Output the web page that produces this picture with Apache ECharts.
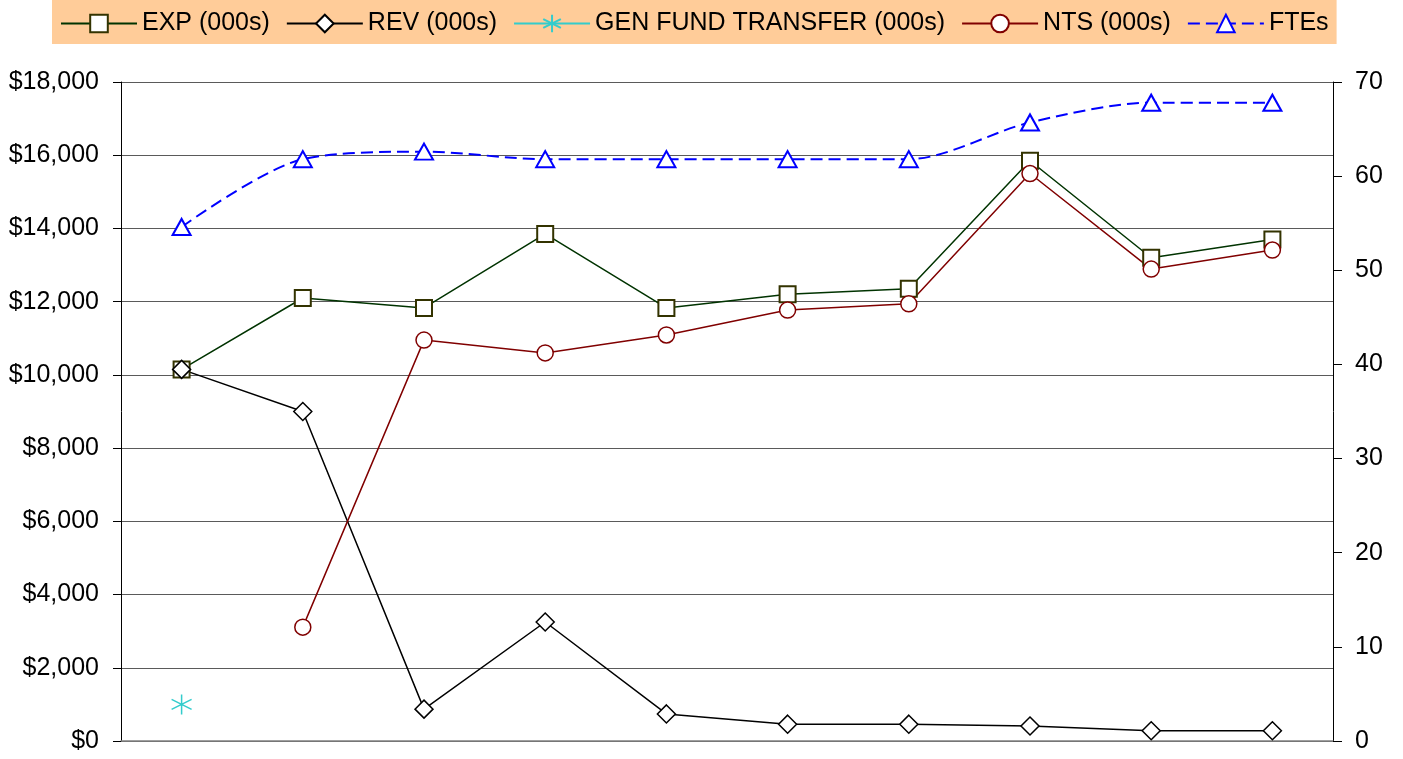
<!DOCTYPE html>
<html>
<head>
<meta charset="utf-8">
<script src="https://cdn.jsdelivr.net/npm/echarts@6/dist/echarts.min.js"></script>
<style>
  html, body { margin: 0; padding: 0; background: #fff; }
  #chart { width: 1403px; height: 759px; }
</style>
</head>
<body>
<div id="chart"></div>
<script>
const categories = ['1', '2', '3', '4', '5', '6', '7', '8', '9', '10']
const expValues = [10150, 12100, 11830, 13850, 11830, 12200, 12350, 15850, 13200, 13700]
const revValues = [10150, 9000, 870, 3250, 740, 460, 460, 410, 280, 280]
const genFundValues = [1000, null, null, null, null, null, null, null, null, null]
const ntsValues = [null, 3110, 10950, 10600, 11090, 11770, 11940, 15500, 12890, 13410]
const fteValues = [54.6, 61.8, 62.6, 61.8, 61.8, 61.8, 61.8, 65.7, 67.8, 67.8]

const font = 'Liberation Sans, Arial, sans-serif'
const asterisk = 'path://M5,0L5,10M0.7,2.5L9.3,7.5M0.7,7.5L9.3,2.5'

const chart = echarts.init(document.getElementById('chart'))

chart.setOption({
  animation: false,
  legend: {
    top: 0,
    left: 52,
    backgroundColor: '#FFCC99',
    padding: [11, 8, 8, 8],
    itemWidth: 76,
    itemHeight: 22,
    itemGap: 16,
    textStyle: { color: '#000', fontSize: 25, fontFamily: font },
  },
  grid: { top: 82, left: 121, right: 70, bottom: 18 },
  xAxis: {
    type: 'category',
    data: categories,
    boundaryGap: true,
    axisLine: { lineStyle: { color: '#808080', width: 1.5 } },
    axisTick: { show: false },
    axisLabel: { show: false },
    splitLine: { show: false },
  },
  yAxis: [
    {
      type: 'value',
      min: 0,
      max: 18000,
      interval: 2000,
      axisLine: { show: true, lineStyle: { color: '#000' } },
      axisTick: { show: true, length: 8, lineStyle: { color: '#000' } },
      axisLabel: {
        color: '#000', fontSize: 25, fontFamily: font, margin: 22,
        formatter: v => '$' + v.toLocaleString('en-US'),
      },
      splitLine: { lineStyle: { color: '#5a5a5a', width: 1 } },
    },
    {
      type: 'value',
      min: 0,
      max: 70,
      interval: 10,
      position: 'right',
      axisLine: { show: true, lineStyle: { color: '#000' } },
      axisTick: { show: true, length: 9, lineStyle: { color: '#000' } },
      axisLabel: { color: '#000', fontSize: 25, fontFamily: font, margin: 22 },
      splitLine: { show: false },
    },
  ],
  series: [
    {
      name: 'EXP (000s)',
      type: 'line',
      data: expValues,
      symbol: 'rect',
      symbolSize: 16,
      lineStyle: { color: '#003300', width: 1.5 },
      itemStyle: { color: '#fff', borderColor: '#333300', borderWidth: 2 },
    },
    {
      name: 'REV (000s)',
      type: 'line',
      data: revValues,
      symbol: 'diamond',
      symbolSize: 18,
      lineStyle: { color: '#000', width: 1.5 },
      itemStyle: { color: '#fff', borderColor: '#000', borderWidth: 1.5 },
    },
    {
      name: 'GEN FUND TRANSFER (000s)',
      type: 'line',
      data: genFundValues,
      symbol: asterisk,
      symbolSize: 20,
      lineStyle: { color: '#33CCCC', width: 1.5 },
      itemStyle: { color: 'rgba(0,0,0,0)', borderColor: '#33CCCC', borderWidth: 1.5 },
    },
    {
      name: 'NTS (000s)',
      type: 'line',
      data: ntsValues,
      symbol: 'circle',
      symbolSize: 16,
      lineStyle: { color: '#800000', width: 1.5 },
      itemStyle: { color: '#fff', borderColor: '#800000', borderWidth: 1.5 },
    },
    {
      name: 'FTEs',
      type: 'line',
      yAxisIndex: 1,
      data: fteValues,
      smooth: 0.3,
      symbol: 'triangle',
      symbolSize: [18, 16],
      lineStyle: { color: '#0000FF', width: 2, type: [12, 6] },
      itemStyle: { color: '#fff', borderColor: '#0000FF', borderWidth: 2 },
    },
  ],
})
</script>
</body>
</html>
